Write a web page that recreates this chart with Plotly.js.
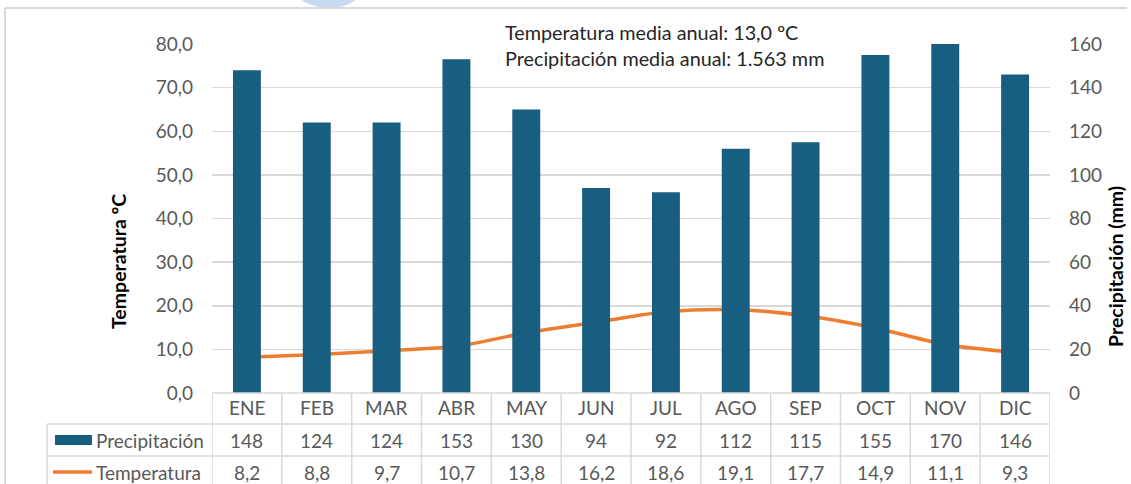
<!DOCTYPE html>
<html>
<head>
<meta charset="utf-8">
<script src="https://cdn.plot.ly/plotly-3.0.1.min.js"></script>
<style>
  html, body { margin: 0; padding: 0; background: #ffffff; }
  #chart { width: 1131px; height: 484px; }
</style>
</head>
<body>
<div id="chart"></div>
<script>
// ---- data ----
const months = ["ENE","FEB","MAR","ABR","MAY","JUN","JUL","AGO","SEP","OCT","NOV","DIC"];
const precipitacion = [148,124,124,153,130,94,92,112,115,155,170,146];
const temperatura = [8.2,8.8,9.7,10.7,13.8,16.2,18.6,19.1,17.7,14.9,11.1,9.3];
const seriesNames = ["Precipitación","Temperatura"];
const infoLines = ["Temperatura media anual: 13,0 ºC","Precipitación media anual: 1.563 mm"];
const yTitleLeft = "Temperatura ºC";
const yTitleRight = "Precipitación (mm)";

// ---- geometry helpers ----
const W = 1131, H = 484;
const M = {l: 212, r: 81, t: 44, b: 91};
const PW = W - M.l - M.r, PH = H - M.t - M.b;
const px = x => (x - M.l) / PW;
const py = y => (H - M.b - y) / PH;

const FONT = "Lato, 'Open Sans', sans-serif";
const GRAY = "#595959";
const GRID = "#d9d9d9";
const BAR = "#185e80";
const LINE = "#ed7d31";

const fmtT = v => v.toFixed(1).replace(".", ",");

const traces = [
  {
    type: "bar", x: months, y: precipitacion, yaxis: "y2", name: seriesNames[0],
    marker: {color: BAR}, hoverinfo: "skip"
  },
  {
    type: "scatter", mode: "lines", x: months, y: temperatura, yaxis: "y", name: seriesNames[1],
    line: {color: LINE, width: 3.5, shape: "spline", smoothing: 0.8}, hoverinfo: "skip"
  }
];

const shapes = [];
const annotations = [];

// faint watermark fragment at the top edge
shapes.push({type: "path", xref: "paper", yref: "paper",
  path: "M " + px(298) + "," + py(-2) + " L " + px(358) + "," + py(-2) + " Q " + px(345) + "," + py(9) + " " + px(328) + "," + py(8) + " Q " + px(310) + "," + py(7) + " " + px(298) + "," + py(-2) + " Z",
  fillcolor: "#c8daf4", line: {width: 0}});

// outer chart border
shapes.push({type: "line", xref: "paper", yref: "paper", x0: px(5), x1: px(1127), y0: py(8), y1: py(8), line: {color: GRID, width: 2}});
shapes.push({type: "line", xref: "paper", yref: "paper", x0: px(5), x1: px(5), y0: py(8), y1: py(490), line: {color: GRID, width: 2}});

// table geometry (rows in pixels)
const rowBot = 490;
shapes.push({type: "line", xref: "paper", yref: "paper", x0: px(212), x1: px(1050), y0: py(393), y1: py(393), line: {color: GRID, width: 1.5}});
shapes.push({type: "line", xref: "paper", yref: "paper", x0: px(47), x1: px(1050), y0: py(424), y1: py(424), line: {color: GRID, width: 1.5}});
shapes.push({type: "line", xref: "paper", yref: "paper", x0: px(47), x1: px(1050), y0: py(456), y1: py(456), line: {color: GRID, width: 1.5}});
shapes.push({type: "line", xref: "paper", yref: "paper", x0: px(47), x1: px(47), y0: py(424), y1: py(rowBot), line: {color: GRID, width: 1.5}});
for (let i = 0; i <= months.length; i++) {
  shapes.push({type: "line", xref: "x", yref: "paper", x0: i - 0.5, x1: i - 0.5, y0: py(393), y1: py(rowBot), line: {color: GRID, width: 1.5}});
}

// table text
months.forEach((m, i) => {
  annotations.push({xref: "x", yref: "paper", x: i, y: py(408), text: m, showarrow: false, font: {family: FONT, size: 19, color: GRAY}, xanchor: "center", yanchor: "middle"});
  annotations.push({xref: "x", yref: "paper", x: i, y: py(440), text: String(precipitacion[i]), showarrow: false, font: {family: FONT, size: 19, color: GRAY}, xanchor: "center", yanchor: "middle"});
  annotations.push({xref: "x", yref: "paper", x: i, y: py(472), text: fmtT(temperatura[i]), showarrow: false, font: {family: FONT, size: 19, color: GRAY}, xanchor: "center", yanchor: "middle"});
});

// legend keys in table
shapes.push({type: "rect", xref: "paper", yref: "paper", x0: px(55), x1: px(92), y0: py(435), y1: py(445), fillcolor: BAR, line: {width: 0}});
shapes.push({type: "line", xref: "paper", yref: "paper", x0: px(53), x1: px(92), y0: py(472), y1: py(472), line: {color: LINE, width: 3.5}});
annotations.push({xref: "paper", yref: "paper", x: px(94), y: py(440), text: seriesNames[0], showarrow: false, font: {family: FONT, size: 19, color: GRAY}, xanchor: "left", yanchor: "middle"});
annotations.push({xref: "paper", yref: "paper", x: px(94), y: py(472), text: seriesNames[1], showarrow: false, font: {family: FONT, size: 19, color: GRAY}, xanchor: "left", yanchor: "middle"});

// info box
shapes.push({type: "rect", xref: "paper", yref: "paper", x0: px(488), x1: px(842), y0: py(12), y1: py(78), fillcolor: "#ffffff", line: {width: 0}, layer: "above"});
annotations.push({xref: "paper", yref: "paper", x: px(503), y: py(32), text: infoLines[0], showarrow: false, font: {family: FONT, size: 19.8, color: "#262626"}, xanchor: "left", yanchor: "middle"});
annotations.push({xref: "paper", yref: "paper", x: px(503), y: py(58), text: infoLines[1], showarrow: false, font: {family: FONT, size: 19.8, color: "#262626"}, xanchor: "left", yanchor: "middle"});

// axis titles
annotations.push({xref: "paper", yref: "paper", x: px(118), y: py(262), text: "<b>" + yTitleLeft + "</b>", showarrow: false, textangle: -90, font: {family: FONT, size: 19.5, color: "#000000"}, xanchor: "center", yanchor: "middle"});
annotations.push({xref: "paper", yref: "paper", x: px(1115), y: py(267), text: "<b>" + yTitleRight + "</b>", showarrow: false, textangle: -90, font: {family: FONT, size: 19.5, color: "#000000"}, xanchor: "center", yanchor: "middle"});

const layout = {
  width: W, height: H,
  margin: M,
  paper_bgcolor: "#ffffff", plot_bgcolor: "#ffffff",
  separators: ",.",
  showlegend: false,
  bargap: 0.6,
  xaxis: {type: "category", showticklabels: false, showgrid: false, zeroline: false, showline: false, ticks: "", range: [-0.5, 11.5], fixedrange: true},
  yaxis: {range: [0, 80], dtick: 10, tick0: 0, tickformat: ".1f", showgrid: true, gridcolor: GRID, gridwidth: 1.5, zeroline: false, showline: false, ticks: "", ticklabelstandoff: 18, tickfont: {family: FONT, size: 19, color: GRAY}, fixedrange: true},
  yaxis2: {range: [0, 160], dtick: 20, tick0: 0, overlaying: "y", side: "right", showgrid: false, zeroline: false, showline: false, ticks: "", ticklabelstandoff: 18, tickfont: {family: FONT, size: 19, color: GRAY}, fixedrange: true},
  shapes: shapes,
  annotations: annotations
};

Plotly.newPlot("chart", traces, layout, {displayModeBar: false, staticPlot: true});
</script>
</body>
</html>
